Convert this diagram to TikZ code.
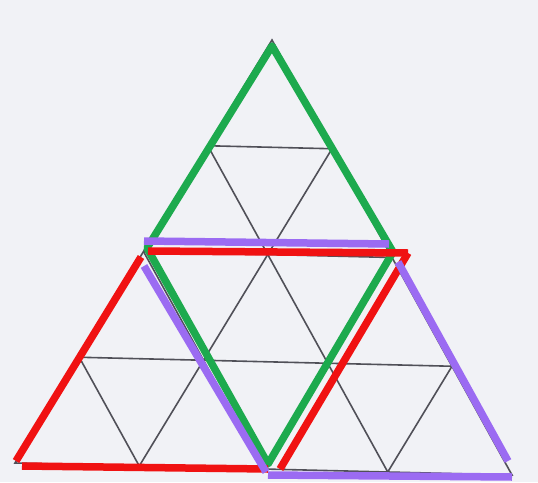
\documentclass[tikz,border=0pt]{standalone}
\usetikzlibrary{calc}
\definecolor{bgc}{HTML}{F1F2F6}
\definecolor{gridc}{HTML}{505058}
\definecolor{gr}{HTML}{1DAA4E}
\definecolor{rd}{HTML}{F01212}
\definecolor{pu}{HTML}{9B6BF2}
\tikzset{
  gridline/.style={draw=gridc, line width=1.6pt},
  greenline/.style={draw=gr, line width=7.5pt, line join=round},
  redline/.style={draw=rd, line width=7.5pt, line cap=butt},
  purpleline/.style={draw=pu, line width=7.5pt, line cap=butt}
}
\begin{document}
\begin{tikzpicture}[x=1pt,y=-1pt]
\fill[bgc] (0,0) rectangle (538,482);
\useasboundingbox (0,0) rectangle (538,482);
% big triangle corners
\coordinate (A) at (272,40);
\coordinate (B) at (15,463);
\coordinate (C) at (512,475);
% grid
\draw[gridline] (A) -- (B) -- (C) -- cycle;
\foreach \t in {0.25,0.5,0.75}{
  \draw[gridline] ($(B)!\t!(A)$) -- ($(C)!\t!(A)$);
  \draw[gridline] ($(B)!\t!(C)$) -- ($(A)!\t!(C)$);
  \draw[gridline] ($(B)!\t!(C)$) -- ($(B)!\t!(A)$);
}
% green rhombus
\coordinate (g1) at (272,46);
\coordinate (g2) at (147,248);
\coordinate (g3) at (268,464);
\coordinate (g4) at (393,252);
\draw[greenline] (g1) -- (g2) -- (g3) -- (g4) -- cycle;
% red parallelogram
\coordinate (r1) at (148,251);
\coordinate (r2) at (408,253);
\coordinate (r3) at (280,469);
\coordinate (r4) at (22,466);
\coordinate (r5) at (268,469);
\coordinate (r6) at (16,461);
\coordinate (r7) at (141,257);
\draw[redline] (r1) -- (r2);
\draw[redline, line join=miter] (r2) -- (r3);
\draw[redline] (r4) -- (r5);
\draw[redline] (r6) -- (r7);
% purple parallelogram
\coordinate (p1) at (144,241);
\coordinate (p2) at (389,244);
\coordinate (p3) at (144,266);
\coordinate (p4) at (266,472);
\coordinate (p5) at (398,262);
\coordinate (p6) at (508,461);
\coordinate (p7) at (268,475);
\coordinate (p8) at (512,477);
\draw[purpleline] (p1) -- (p2);
\draw[purpleline] (p3) -- (p4);
\draw[purpleline] (p5) -- (p6);
\draw[purpleline] (p7) -- (p8);
\end{tikzpicture}
\end{document}
